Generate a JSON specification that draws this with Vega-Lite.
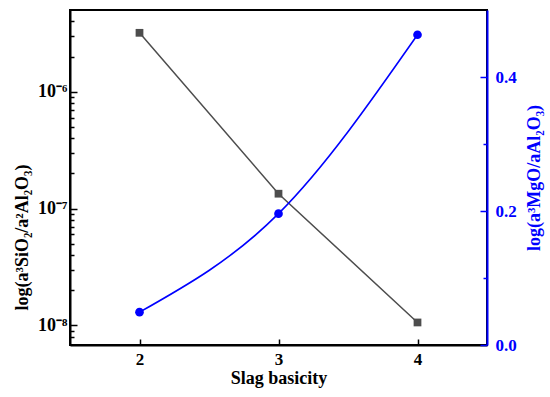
{
  "$schema": "https://vega.github.io/schema/vega-lite/v6.json",
  "width": 417,
  "height": 335,
  "autosize": {"type": "none"},
  "padding": {"left": 70, "top": 10, "right": 63, "bottom": 52},
  "background": "white",
  "config": {
    "view": {"stroke": "black", "strokeWidth": 2},
    "font": "Liberation Serif",
    "axis": {
      "labelFont": "Liberation Serif",
      "titleFont": "Liberation Serif",
      "labelFontWeight": "bold",
      "titleFontWeight": "bold",
      "labelFontSize": 17,
      "titleFontSize": 18,
      "grid": false,
      "domainWidth": 2,
      "tickWidth": 1.5
    }
  },
  "data": {
    "values": [
      {"basicity": 2, "si": 3.19e-6, "mg": 0.049},
      {"basicity": 3, "si": 1.34e-7, "mg": 0.196},
      {"basicity": 4, "si": 1.06e-8, "mg": 0.463}
    ]
  },
  "encoding": {
    "x": {
      "field": "basicity",
      "type": "quantitative",
      "scale": {"domain": [1.5, 4.5]},
      "axis": {
        "values": [2, 3, 4],
        "title": "Slag basicity",
        "tickSize": -6,
        "domainColor": "black",
        "tickColor": "black",
        "labelColor": "black",
        "titleColor": "black",
        "labelPadding": 12,
        "titlePadding": 2
      }
    }
  },
  "layer": [
    {
      "encoding": {
        "y": {
          "field": "si",
          "type": "quantitative",
          "scale": {"type": "log", "domain": [6.8e-9, 5e-6]},
          "axis": {
            "orient": "left",
            "title": "log(a³SiO₂/a²Al₂O₃)",
            "titleY": 227,
            "titlePadding": 6,
            "values": [8e-9, 9e-9, 1e-8, 2e-8, 3e-8, 4e-8, 5e-8, 6e-8, 7e-8, 8e-8, 9e-8, 1e-7, 2e-7, 3e-7, 4e-7, 5e-7, 6e-7, 7e-7, 8e-7, 9e-7, 1e-6, 2e-6, 3e-6, 4e-6],
            "labelExpr": "datum.value == 1e-6 ? '10⁻⁶' : datum.value == 1e-7 ? '10⁻⁷' : datum.value == 1e-8 ? '10⁻⁸' : ''",
            "tickSize": {"condition": {"test": "datum.value == 1e-6 || datum.value == 1e-7 || datum.value == 1e-8", "value": -7}, "value": -4},
            "domainColor": "black",
            "tickColor": "black",
            "labelColor": "black",
            "titleColor": "black",
            "labelPadding": 10,
            "labelFontSize": 18
          }
        }
      },
      "layer": [
        {"mark": {"type": "line", "color": "#4d4d4d", "strokeWidth": 1.5}},
        {"mark": {"type": "square", "color": "#4d4d4d", "opacity": 1, "size": 60, "filled": true}}
      ]
    },
    {
      "encoding": {
        "y": {
          "field": "mg",
          "type": "quantitative",
          "scale": {"domain": [0, 0.5]},
          "axis": {
            "orient": "right",
            "title": "log(a³MgO/aAl₂O₃)",
            "titleAngle": -90,
            "titleX": 38,
            "titleBaseline": "top",
            "titleAlign": "center",
            "values": [0, 0.1, 0.2, 0.3, 0.4],
            "labelExpr": "datum.value == 0.1 || datum.value == 0.3 ? '' : format(datum.value, '.1f')",
            "tickSize": {"condition": {"test": "datum.value == 0.1 || datum.value == 0.3", "value": -4}, "value": -7},
            "domainColor": "#0000ff",
            "tickColor": "#0000ff",
            "labelColor": "#0000ff",
            "titleColor": "#0000ff",
            "labelPadding": 15
          }
        }
      },
      "layer": [
        {"mark": {"type": "line", "color": "#0000ff", "strokeWidth": 1.6, "interpolate": "monotone"}},
        {"mark": {"type": "circle", "color": "#0000ff", "opacity": 1, "size": 75}}
      ]
    }
  ],
  "resolve": {"scale": {"y": "independent"}}
}
